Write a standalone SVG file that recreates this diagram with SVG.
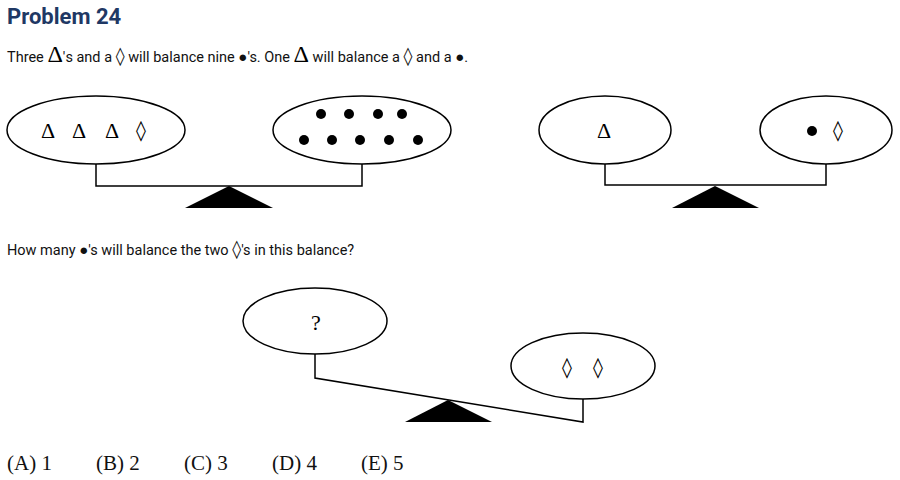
<svg xmlns="http://www.w3.org/2000/svg" width="900" height="480" viewBox="0 0 900 480">
<style>
.t{font-family:Roboto,"Liberation Sans",sans-serif;font-size:14.5px;fill:#111}
.s{font-family:"Liberation Serif",serif;fill:#000}
.sym{font-family:"Liberation Serif",serif;font-size:22px;text-anchor:middle;dominant-baseline:central}
.dia{font-family:"DejaVu Sans",sans-serif;font-size:20px;text-anchor:middle;dominant-baseline:central}
.pan{fill:#fff;stroke:#000;stroke-width:1.5}
.beam{fill:none;stroke:#000;stroke-width:1.5}
.ans{font-family:"Liberation Serif",serif;font-size:21px;fill:#111}
</style>
<rect width="900" height="480" fill="#fff"/>
<text x="7" y="24" font-family="Roboto,'Liberation Sans',sans-serif" font-weight="bold" font-size="22" fill="#1f3864">Problem 24</text>
<text class="t" x="7" y="62">Three <tspan class="s" font-size="24">Δ</tspan>'s and a <tspan font-family="DejaVu Sans" font-size="18">◊</tspan> will balance nine <tspan font-size="15">●</tspan>'s. One <tspan class="s" font-size="24">Δ</tspan> will balance a <tspan font-family="DejaVu Sans" font-size="18">◊</tspan> and a <tspan font-size="15">●</tspan>.</text>
<text class="t" x="7" y="255">How many <tspan font-size="15">●</tspan>'s will balance the two <tspan font-family="DejaVu Sans" font-size="18">◊</tspan>'s in this balance?</text>

<g id="connectors">
<polyline class="beam" points="96,164 96,186 362,186 362,164"/>
<polyline class="beam" points="605,164 605,185 826,185 826,164"/>
<polyline class="beam" points="315,354 315,378 583,422 583,399"/>
</g>

<g id="balance1">
<polygon points="229,186 185,208 273,208" fill="#000"/>
<ellipse class="pan" cx="96" cy="130" rx="89" ry="34"/>
<text class="sym" x="48" y="130">Δ</text>
<text class="sym" x="79" y="130">Δ</text>
<text class="sym" x="112" y="130">Δ</text>
<text class="dia" x="141" y="130">◊</text>
<ellipse class="pan" cx="362" cy="130" rx="89" ry="34"/>
<g fill="#000">
<circle cx="321" cy="114" r="5"/><circle cx="349" cy="114" r="5"/><circle cx="378" cy="114" r="5"/><circle cx="402" cy="114" r="5"/>
<circle cx="304" cy="140" r="5"/><circle cx="332" cy="140" r="5"/><circle cx="360" cy="140" r="5"/><circle cx="389" cy="140" r="5"/><circle cx="418" cy="140" r="5"/>
</g>
</g>

<g id="balance2">
<polygon points="715,186 672,208 759,208" fill="#000"/>
<ellipse class="pan" cx="605" cy="130" rx="66" ry="34"/>
<text class="sym" x="604" y="130">Δ</text>
<ellipse class="pan" cx="826" cy="130" rx="66" ry="34"/>
<circle cx="812" cy="131" r="5" fill="#000"/>
<text class="dia" x="838" y="130">◊</text>
</g>

<g id="balance3">
<polygon points="448,400 405,422 492,422" fill="#000"/>
<ellipse class="pan" cx="315" cy="321" rx="72" ry="33"/>
<text class="sym" x="316" y="322" font-size="20">?</text>
<ellipse class="pan" cx="583" cy="366" rx="72" ry="33"/>
<text class="dia" x="567" y="367">◊</text>
<text class="dia" x="598" y="367">◊</text>
</g>

<text class="ans" x="7" y="470">(A) 1</text>
<text class="ans" x="96" y="470">(B) 2</text>
<text class="ans" x="184" y="470">(C) 3</text>
<text class="ans" x="272" y="470">(D) 4</text>
<text class="ans" x="361" y="470">(E) 5</text>
</svg>
